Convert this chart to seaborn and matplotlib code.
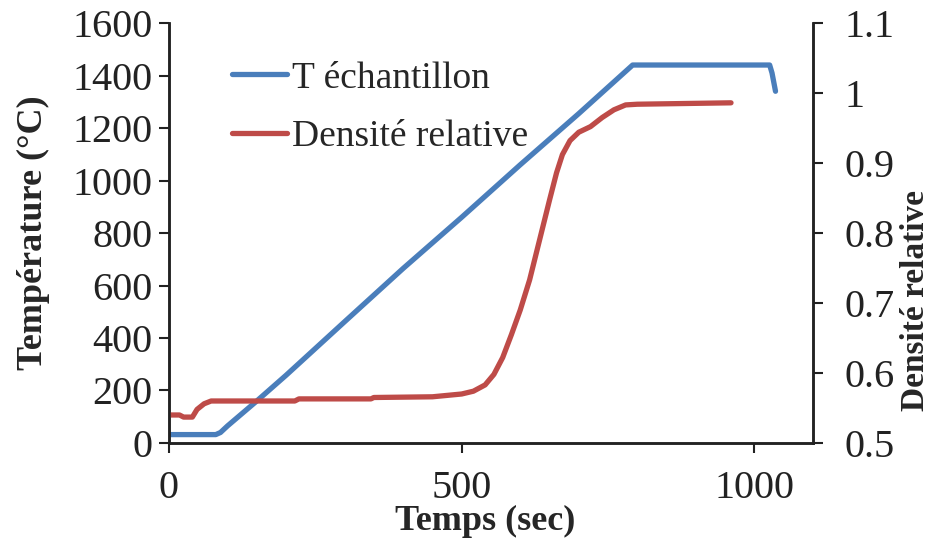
import numpy as np
import pandas as pd
import seaborn as sns
from matplotlib import pyplot as plt

# temperature of the sample (left axis)
temps_t = [0, 80, 88, 100, 150, 200, 300, 400, 500, 600, 700, 792, 1026, 1030, 1036]
temp_c  = [32, 32, 40, 65, 160, 258, 462, 665, 860, 1060, 1255, 1440, 1440, 1410, 1340]

# relative density (right axis)
temps_d = [0, 18, 25, 40, 48, 60, 72, 215, 222, 345, 350, 450, 500, 520, 540, 555,
           570, 585, 600, 616, 633, 650, 662, 672, 685, 700, 720, 740, 760, 780, 800, 960]
densite = [0.54, 0.54, 0.537, 0.537, 0.548, 0.556, 0.56, 0.56, 0.563, 0.563, 0.565,
           0.566, 0.57, 0.574, 0.583, 0.598, 0.622, 0.655, 0.69, 0.733, 0.79, 0.847,
           0.886, 0.912, 0.932, 0.944, 0.952, 0.965, 0.976, 0.983, 0.984, 0.986]

x_ticks  = [0, 500, 1000]
y1_ticks = [0, 200, 400, 600, 800, 1000, 1200, 1400, 1600]
y2_ticks = [0.5, 0.6, 0.7, 0.8, 0.9, 1.0, 1.1]
y2_labels = ["0.5", "0.6", "0.7", "0.8", "0.9", "1", "1.1"]

sns.set_style("ticks")
plt.rcParams['font.family'] = ['Liberation Serif', 'DejaVu Serif']

BLUE = "#4A7EBB"
RED  = "#BE4B48"
TICK_FS  = 29
LABEL_FS = 26
LEG_FS   = 27

df_t = pd.DataFrame({"Temps": temps_t, "Temp": temp_c})
df_d = pd.DataFrame({"Temps": temps_d, "Dens": densite})

fig = plt.figure(figsize=(9.35, 5.38), dpi=100)
ax = fig.add_axes([0.1807, 0.1766, 0.6888, 0.7806])
ax2 = ax.twinx()

sns.lineplot(data=df_t, x="Temps", y="Temp", ax=ax, color=BLUE, linewidth=3.8,
             label="T échantillon", legend=False, solid_capstyle='round')
sns.lineplot(data=df_d, x="Temps", y="Dens", ax=ax2, color=RED, linewidth=3.8,
             label="Densité relative", legend=False, solid_capstyle='round')

ax.set_xlim(0, 1100)
ax.set_ylim(0, 1600)
ax2.set_ylim(0.5, 1.1)
ax.set_xticks(x_ticks)
ax.set_yticks(y1_ticks)
ax2.set_yticks(y2_ticks)
ax2.set_yticklabels(y2_labels)

for a in (ax, ax2):
    a.tick_params(direction='out', length=7.5, width=1.5, labelsize=TICK_FS,
                  color='#222222', labelcolor='#222222')
    for s in a.spines.values():
        s.set_linewidth(1.8)
        s.set_color('#222222')
    a.spines['top'].set_visible(False)
ax.tick_params(axis='x', pad=12)
ax.tick_params(axis='y', pad=4.5)
ax2.tick_params(axis='y', pad=15)

ax.set_xlabel("Temps (sec)", fontsize=LABEL_FS, fontweight='bold')
ax.xaxis.set_label_coords(0.491, -0.148)
ax.set_ylabel("Température (°C)", fontsize=LABEL_FS, fontweight='bold', labelpad=16)
ax2.set_ylabel("Densité relative", fontsize=24, fontweight='bold')
ax2.yaxis.set_label_coords(1.135, 0.34)

handles = ax.get_lines()[:1] + ax2.get_lines()[:1]
ax.legend(handles, ["T échantillon", "Densité relative"], loc='upper left',
          bbox_to_anchor=(0.075, 0.945), frameon=False, fontsize=LEG_FS,
          handlelength=1.45, handletextpad=0.15, labelspacing=0.64, borderaxespad=0)

fig.savefig("out.png", dpi=100)
